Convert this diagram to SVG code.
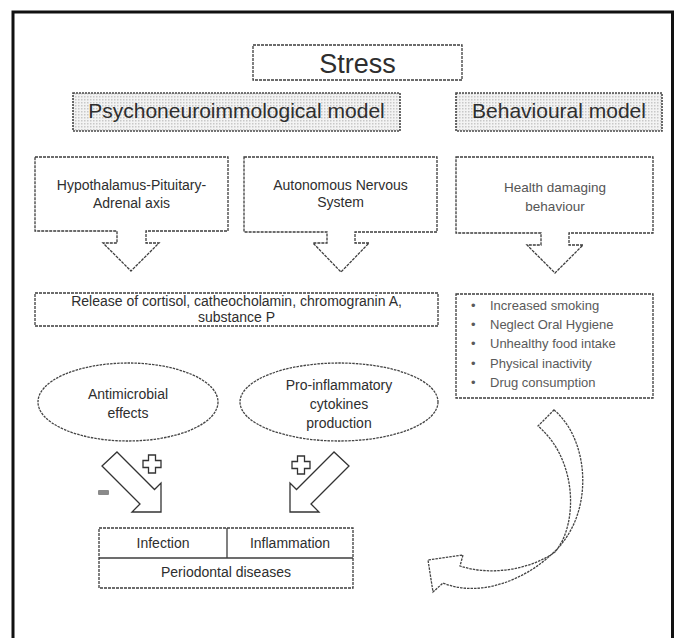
<svg xmlns="http://www.w3.org/2000/svg" width="681" height="638" viewBox="0 0 681 638">
<defs>
<pattern id="dots" width="3" height="3" patternUnits="userSpaceOnUse">
<rect width="3" height="3" fill="#f3f3f3"/>
<rect width="1.5" height="1.5" fill="#c8c8c8"/>
</pattern>
<style>
.t{font-family:"Liberation Sans",Arial,sans-serif;fill:#2e2e2e;text-anchor:middle}
.lt{font-family:"Liberation Sans",Arial,sans-serif;fill:#5a5a5a}
.b{fill:#fff;stroke:#3d3d3d;stroke-width:1.3;stroke-dasharray:3 1}
.h{fill:url(#dots);stroke:#484848;stroke-width:1.6;stroke-dasharray:2 1}
.a{fill:#fff;stroke:#333;stroke-width:1.3;stroke-linejoin:miter}
.c{fill:#fff;stroke:#444;stroke-width:1.3;stroke-dasharray:2.5 1}
</style>
</defs>
<rect width="681" height="638" fill="#fff"/>
<rect x="13" y="12" width="659.5" height="640" fill="none" stroke="#111" stroke-width="3"/>

<g id="stress">
<rect class="b" x="253" y="45" width="209" height="35"/>
<text class="t" x="357.5" y="73" font-size="27">Stress</text>
</g>

<g id="psycho-model">
<rect class="h" x="73" y="93" width="327" height="38"/>
<text class="t" x="236.5" y="118" font-size="21">Psychoneuroimmological model</text>
</g>

<g id="behavioural-model">
<rect class="h" x="456" y="93" width="206" height="38"/>
<text class="t" x="559" y="118" font-size="21">Behavioural model</text>
</g>

<g id="hpa-axis">
<path class="b" d="M35,157 H228 V231 H146 V243 H159 L131,271 L103,243 H117 V231 H35 Z"/>
<text class="t" x="131.5" y="190" font-size="14">Hypothalamus-Pituitary-</text>
<text class="t" x="131.5" y="208" font-size="14">Adrenal axis</text>
</g>

<g id="ans">
<path class="b" d="M244,157 H437 V232 H355 V243 H369 L341,272 L313,243 H327 V232 H244 Z"/>
<text class="t" x="340.5" y="190" font-size="14">Autonomous Nervous</text>
<text class="t" x="340.5" y="207" font-size="14">System</text>
</g>

<g id="health-damaging">
<path class="b" d="M456,157 H653 V233 H569 V245 H583 L555,273 L527,245 H541 V233 H456 Z"/>
<text class="t" x="555" y="192" font-size="13.5" style="fill:#555">Health damaging</text>
<text class="t" x="555" y="211" font-size="13.5" style="fill:#555">behaviour</text>
</g>

<g id="release">
<rect class="b" x="35" y="293" width="403" height="33"/>
<text class="t" x="236.5" y="306" font-size="14">Release of cortisol, catheocholamin, chromogranin A,</text>
<text class="t" x="236.5" y="322" font-size="14">substance P</text>
</g>

<g id="behaviours-list">
<rect class="b" x="456" y="294" width="197" height="104"/>
<g class="lt" font-size="13">
<text x="471" y="310">•</text><text x="490" y="310">Increased smoking</text>
<text x="471" y="329">•</text><text x="490" y="329">Neglect Oral Hygiene</text>
<text x="471" y="348">•</text><text x="490" y="348">Unhealthy food intake</text>
<text x="471" y="368">•</text><text x="490" y="368">Physical inactivity</text>
<text x="471" y="387">•</text><text x="490" y="387">Drug consumption</text>
</g>
</g>

<g id="antimicrobial">
<ellipse class="c" cx="128" cy="402" rx="90" ry="39"/>
<text class="t" x="128" y="399" font-size="14">Antimicrobial</text>
<text class="t" x="128" y="418" font-size="14">effects</text>
</g>

<g id="proinflammatory">
<ellipse class="c" cx="339" cy="402" rx="99" ry="39"/>
<text class="t" x="339" y="390" font-size="14">Pro-inflammatory</text>
<text class="t" x="339" y="409" font-size="14">cytokines</text>
<text class="t" x="339" y="428" font-size="14">production</text>
</g>

<g id="periodontal">
<rect class="b" x="99" y="528" width="254" height="60"/>
<line x1="99" y1="558" x2="353" y2="558" stroke="#3d3d3d" stroke-width="1.3"/>
<line x1="227" y1="528" x2="227" y2="558" stroke="#3d3d3d" stroke-width="1.3"/>
<text class="t" x="163" y="548" font-size="14">Infection</text>
<text class="t" x="290" y="548" font-size="14">Inflammation</text>
<text class="t" x="226" y="577" font-size="14">Periodontal diseases</text>
</g>

<g id="connectors">
<polygon class="a" points="117,452 154.5,489.5 161,483 161,512 132,512 140,504 102,466"/>
<polygon class="a" points="334,452 296.5,489.5 290,483 290,512 319,512 311,504 349,466"/>
<path class="a" d="M148.5,455 H155.5 V460.5 H161 V467.5 H155.5 V473 H148.5 V467.5 H143 V460.5 H148.5 Z"/>
<path class="a" d="M297.5,456 H304.5 V461.5 H310 V468.5 H304.5 V474 H297.5 V468.5 H292 V461.5 H297.5 Z"/>
<rect x="98" y="490" width="11" height="5" rx="1" fill="#8a8a8a"/>
<path class="c" d="M554,410 C590,440 595,515 553,553 C525,580 480,598 443,583 L433,592 L428,560 L463,555 L460,566 C490,576 530,570 555,552 C578,525 578,460 538,426 Z"/>
</g>
</svg>
